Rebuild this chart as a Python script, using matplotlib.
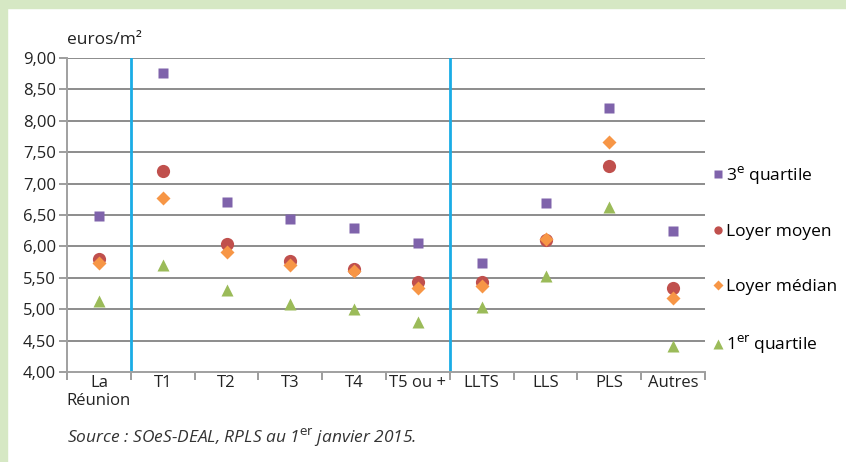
import numpy as np
import matplotlib
matplotlib.use("Agg")
import matplotlib.pyplot as plt
from matplotlib.lines import Line2D
from matplotlib.patches import Rectangle

plt.rcParams['font.family'] = ['Open Sans', 'DejaVu Sans']

categories = ["La\nRéunion", "T1", "T2", "T3", "T4", "T5 ou +", "LLTS", "LLS", "PLS", "Autres"]
q3 = [6.48, 8.76, 6.71, 6.44, 6.29, 6.05, 5.74, 6.69, 8.20, 6.24]
moyen = [5.80, 7.20, 6.04, 5.77, 5.64, 5.43, 5.43, 6.10, 7.28, 5.34]
median = [5.74, 6.77, 5.91, 5.70, 5.61, 5.34, 5.37, 6.11, 7.66, 5.18]
q1 = [5.13, 5.70, 5.31, 5.08, 5.01, 4.80, 5.04, 5.53, 6.62, 4.41]
yticks = [4.0, 4.5, 5.0, 5.5, 6.0, 6.5, 7.0, 7.5, 8.0, 8.5, 9.0]
separators = [0.5, 5.5]

fig = plt.figure(figsize=(8.46, 4.62), dpi=100)
fig.patch.set_facecolor("white")
# green frame on the top and left
fig.add_artist(Rectangle((0, 0), 7 / 846, 1, transform=fig.transFigure,
                         color="#d6e8c4", zorder=0))
fig.add_artist(Rectangle((0, 1 - 8 / 462), 1, 8 / 462, transform=fig.transFigure,
                         color="#d6e8c4", zorder=0))

ax = fig.add_axes([67 / 846, 90 / 462, 638 / 846, 314 / 462])
x = np.arange(len(categories))

ax.set_xlim(-0.5, len(categories) - 0.5)
ax.set_ylim(4.0, 9.0)
ax.set_yticks(yticks)
ax.set_yticklabels([f"{v:.2f}".replace(".", ",") for v in yticks], fontsize=12, color="#222222")
for v in yticks[1:]:
    ax.axhline(v, color="#8c8c8c", lw=1.4, zorder=1)

ax.set_xticks(np.arange(-0.5, len(categories), 1.0))
ax.set_xticklabels([])
ax.set_xticks(x, minor=True)
ax.set_xticklabels(categories, minor=True, fontsize=12, color="#222222", va="top",
                   linespacing=1.15)
ax.tick_params(axis="x", which="major", direction="out", length=6, color="#8c8c8c", width=1.2)
ax.tick_params(axis="x", which="minor", length=0, pad=2)
ax.tick_params(axis="y", direction="out", length=6, color="#8c8c8c", width=1.2, pad=2)

for s in ["top", "right"]:
    ax.spines[s].set_visible(False)
for s in ["left", "bottom"]:
    ax.spines[s].set_color("#a0a0a0")
    ax.spines[s].set_linewidth(1.4)

for sx in separators:
    ax.axvline(sx, color="#1aace6", lw=2, zorder=2)

ax.plot(x, q3, ls="none", marker="s", ms=6.5, color="#7f63ab", mec="none", zorder=3)
ax.plot(x, moyen, ls="none", marker="o", ms=9.5, color="#c0504d", mec="none", zorder=3)
ax.plot(x, median, ls="none", marker="D", ms=7, color="#f79646", mec="none", zorder=4)
ax.plot(x, q1, ls="none", marker="^", ms=8, color="#9bbb59", mec="none", zorder=3)

handles = [
    Line2D([], [], ls="none", marker="s", ms=5.5, color="#7f63ab", mec="none"),
    Line2D([], [], ls="none", marker="o", ms=6, color="#c0504d", mec="none"),
    Line2D([], [], ls="none", marker="D", ms=5, color="#f79646", mec="none"),
    Line2D([], [], ls="none", marker="^", ms=6.5, color="#9bbb59", mec="none"),
]
labels = ["3$^{\\mathrm{e}}$ quartile", "Loyer moyen", "Loyer médian", "1$^{\\mathrm{er}}$ quartile"]
fig.legend(handles, labels, loc="upper left", bbox_to_anchor=(713 / 846, 1 - 164 / 462),
           frameon=False, fontsize=12.5, handlelength=0.6, handletextpad=0.15,
           labelspacing=2.2, borderpad=0, borderaxespad=0)

fig.text(67 / 846, 1 - 40 / 462, "euros/m²", fontsize=12.5, color="#222222",
         ha="left", va="center")
fig.text(67 / 846, 1 - 438 / 462, "Source : SOeS-DEAL, RPLS au 1$^{\\mathrm{er}}$ janvier 2015.",
         fontsize=12.5, style="italic", color="#333333", ha="left", va="center")

fig.savefig("out.png", dpi=100)
